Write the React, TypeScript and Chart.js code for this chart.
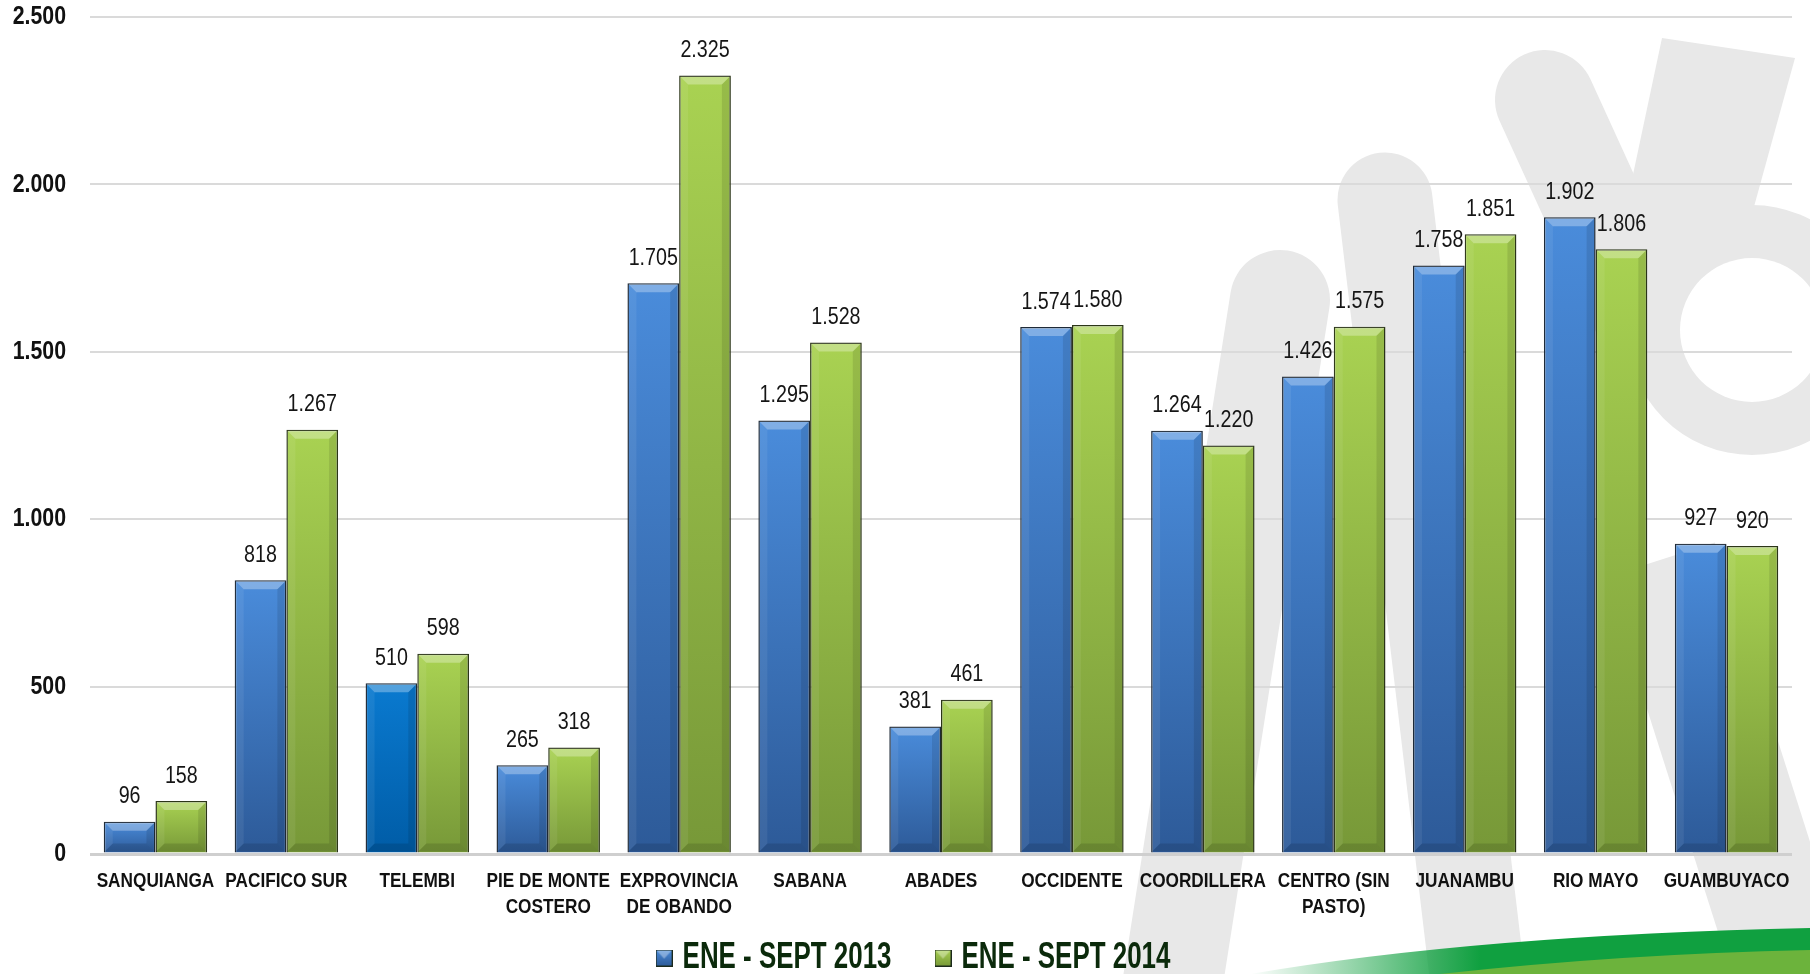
import { useEffect, useRef } from 'react';
import { Chart, registerables } from 'chart.js';

Chart.register(...registerables);

const categories: (string | string[])[] = [
  'SANQUIANGA',
  'PACIFICO SUR',
  'TELEMBI',
  ['PIE DE MONTE', 'COSTERO'],
  ['EXPROVINCIA', 'DE OBANDO'],
  'SABANA',
  'ABADES',
  'OCCIDENTE',
  'COORDILLERA',
  ['CENTRO (SIN', 'PASTO)'],
  'JUANAMBU',
  'RIO MAYO',
  'GUAMBUYACO',
];
const series2013 = [96, 818, 510, 265, 1705, 1295, 381, 1574, 1264, 1426, 1758, 1902, 927];
const series2014 = [158, 1267, 598, 318, 2325, 1528, 461, 1580, 1220, 1575, 1851, 1806, 920];
const seriesNames = ['ENE - SEPT 2013', 'ENE - SEPT 2014'];
const yMin = 0;
const yMax = 2500;
const yStep = 500;

const FONT = "'Liberation Sans', Arial, sans-serif";

const BLUE = { top: '#4a8cdb', bottom: '#2d5a98' };
const BLUE_ALT = { top: '#0a7ad0', bottom: '#005ca6' };
const GREEN = { top: '#a9d252', bottom: '#779838' };

function fmt(v: number) {
  return String(Math.round(v)).replace(/\B(?=(\d{3})+(?!\d))/g, '.');
}

function barGradient(ctx: any, top: string, bottom: string) {
  const chart = ctx.chart;
  const yScale = chart.scales && chart.scales.y;
  if (!chart.chartArea || !yScale) return top;
  const v = ctx.parsed ? ctx.parsed.y : ctx.raw;
  const yTop = yScale.getPixelForValue(v);
  const yBase = yScale.getPixelForValue(0);
  if (!isFinite(yTop) || !isFinite(yBase) || yBase - yTop < 1) return top;
  const g = chart.ctx.createLinearGradient(0, yTop, 0, yBase);
  g.addColorStop(0, top);
  g.addColorStop(1, bottom);
  return g;
}

function makeIcon(top: string, bottom: string) {
  const s = 17;
  const cv = document.createElement('canvas');
  cv.width = s;
  cv.height = s;
  const c = cv.getContext('2d')!;
  const g = c.createLinearGradient(0, 0, 0, s);
  g.addColorStop(0, top);
  g.addColorStop(1, bottom);
  c.fillStyle = g;
  c.fillRect(0, 0, s, s);
  c.fillStyle = 'rgba(255,255,255,0.35)';
  c.beginPath();
  c.moveTo(1, 1);
  c.lineTo(s - 1, 1);
  c.lineTo(s / 2, s * 0.55);
  c.closePath();
  c.fill();
  c.strokeStyle = '#1c2a1c';
  c.lineWidth = 1;
  c.strokeRect(0.5, 0.5, s - 1, s - 1);
  return cv;
}

function narrowFactor(font: string) {
  const m = /(\d+(?:\.\d+)?)px/.exec(font);
  const s = m ? parseFloat(m[1]) : 12;
  return s >= 30 ? 0.72 : 0.82;
}

// Condensed text rendering (Arial Narrow look) for every text drawn on the chart canvas
const narrowTextPlugin = {
  id: 'narrowText',
  beforeInit(chart: any) {
    const c: any = chart.ctx;
    const origFill = c.fillText.bind(c);
    const origMeasure = c.measureText.bind(c);
    c.fillText = (text: string, x: number, y: number, maxWidth?: number) => {
      const k = narrowFactor(c.font);
      c.save();
      c.translate(x, y);
      c.scale(k, 1);
      if (maxWidth === undefined || maxWidth === null) origFill(text, 0, 0);
      else origFill(text, 0, 0, maxWidth / k);
      c.restore();
    };
    c.measureText = (text: string) => {
      const k = narrowFactor(c.font);
      const m = origMeasure(text);
      return {
        width: m.width * k,
        actualBoundingBoxLeft: m.actualBoundingBoxLeft * k,
        actualBoundingBoxRight: m.actualBoundingBoxRight * k,
        actualBoundingBoxAscent: m.actualBoundingBoxAscent,
        actualBoundingBoxDescent: m.actualBoundingBoxDescent,
        fontBoundingBoxAscent: m.fontBoundingBoxAscent,
        fontBoundingBoxDescent: m.fontBoundingBoxDescent,
      };
    };
  },
};

// place the legend row like the original slide (lower and slightly right)
const legendPlacePlugin = {
  id: 'legendPlace',
  afterLayout(chart: any) {
    const lg = chart.legend;
    if (!lg) return;
    lg.top -= 31;
    lg.left += 21;
    lg.right += 21;
  },
};

const backgroundPlugin = {
  id: 'bgDecor',
  beforeDraw(chart: any) {
    const c = chart.ctx as CanvasRenderingContext2D;
    const W = chart.width;
    const H = chart.height;
    c.save();
    c.fillStyle = '#ffffff';
    c.fillRect(0, 0, W, H);
    const grey = '#e8e8e8';
    c.fillStyle = grey;
    c.strokeStyle = grey;
    c.beginPath();
    c.arc(1752, 330, 125, 0, Math.PI * 2);
    c.fill();
    c.lineCap = 'round';
    const band = (x1: number, y1: number, x2: number, y2: number, w: number) => {
      c.lineWidth = w;
      c.beginPath();
      c.moveTo(x1, y1);
      c.lineTo(x2, y2);
      c.stroke();
    };
    band(1385, 200, 1480, 1000, 95);
    band(1545, 100, 1650, 330, 100);
    band(1280, 300, 1170, 1000, 100);
    c.lineCap = 'butt';
    band(1660, 560, 1800, 1000, 115);
    c.beginPath();
    c.moveTo(1662, 38);
    c.lineTo(1795, 58);
    c.lineTo(1720, 330);
    c.lineTo(1600, 330);
    c.closePath();
    c.fill();
    c.fillStyle = '#ffffff';
    c.beginPath();
    c.arc(1752, 330, 72, 0, Math.PI * 2);
    c.fill();
    const g1 = c.createLinearGradient(1250, 0, 1480, 0);
    g1.addColorStop(0, 'rgba(16,160,64,0)');
    g1.addColorStop(1, 'rgba(16,160,64,1)');
    c.fillStyle = g1;
    c.beginPath();
    c.moveTo(1250, 974);
    c.quadraticCurveTo(1480, 935, 1810, 928);
    c.lineTo(1810, 974);
    c.closePath();
    c.fill();
    c.fillStyle = '#6cb33c';
    c.beginPath();
    c.moveTo(1440, 974);
    c.quadraticCurveTo(1620, 954, 1810, 950);
    c.lineTo(1810, 974);
    c.closePath();
    c.fill();
    c.restore();
  },
};

const barDecorPlugin = {
  id: 'barDecor',
  afterDatasetsDraw(chart: any) {
    const c = chart.ctx as CanvasRenderingContext2D;
    chart.data.datasets.forEach((ds: any, di: number) => {
      const meta = chart.getDatasetMeta(di);
      meta.data.forEach((el: any, i: number) => {
        const p = el.getProps(['x', 'y', 'base', 'width'], true);
        const l = p.x - p.width / 2;
        const r = p.x + p.width / 2;
        const t = p.y;
        const b = p.base;
        const bv = Math.min(9, (b - t) / 3);
        c.save();
        c.fillStyle = 'rgba(255,255,255,0.3)';
        c.beginPath();
        c.moveTo(l + 1, t + 1);
        c.lineTo(r - 1, t + 1);
        c.lineTo(r - bv, t + bv);
        c.lineTo(l + bv, t + bv);
        c.closePath();
        c.fill();
        c.fillStyle = 'rgba(0,0,0,0.10)';
        c.beginPath();
        c.moveTo(r - 1, t + 1);
        c.lineTo(r - 1, b - 1);
        c.lineTo(r - bv, b - bv);
        c.lineTo(r - bv, t + bv);
        c.closePath();
        c.fill();
        c.fillStyle = 'rgba(255,255,255,0.07)';
        c.beginPath();
        c.moveTo(l + 1, t + 1);
        c.lineTo(l + 1, b - 1);
        c.lineTo(l + bv, b - bv);
        c.lineTo(l + bv, t + bv);
        c.closePath();
        c.fill();
        c.fillStyle = 'rgba(0,0,0,0.12)';
        c.beginPath();
        c.moveTo(l + 1, b - 1);
        c.lineTo(r - 1, b - 1);
        c.lineTo(r - bv, b - bv);
        c.lineTo(l + bv, b - bv);
        c.closePath();
        c.fill();
        c.fillStyle = '#151515';
        c.font = `24px ${FONT}`;
        c.textAlign = 'center';
        c.textBaseline = 'middle';
        c.fillText(fmt(ds.data[i]), p.x, t - 25);
        c.restore();
      });
    });
  },
};

export default function App() {
  const ref = useRef<HTMLCanvasElement | null>(null);

  useEffect(() => {
    if (!ref.current) return;
    const icons = [makeIcon(BLUE.top, BLUE.bottom), makeIcon(GREEN.top, GREEN.bottom)];
    const chart = new Chart(ref.current, {
      type: 'bar',
      data: {
        labels: categories,
        datasets: [
          {
            label: seriesNames[0],
            data: series2013,
            backgroundColor: (ctx: any) =>
              ctx.dataIndex === 2
                ? barGradient(ctx, BLUE_ALT.top, BLUE_ALT.bottom)
                : barGradient(ctx, BLUE.top, BLUE.bottom),
            borderColor: '#1e2a38',
            borderWidth: 1.5,
            categoryPercentage: 0.79,
            barPercentage: 1,
          },
          {
            label: seriesNames[1],
            data: series2014,
            backgroundColor: (ctx: any) => barGradient(ctx, GREEN.top, GREEN.bottom),
            borderColor: '#2c3618',
            borderWidth: 1.5,
            categoryPercentage: 0.79,
            barPercentage: 1,
          },
        ],
      },
      options: {
        animation: false,
        responsive: true,
        maintainAspectRatio: false,
        layout: { padding: { left: 0, right: 18, top: 17, bottom: 0 } },
        plugins: {
          tooltip: { enabled: false },
          legend: {
            position: 'bottom',
            maxHeight: 54,
            labels: {
              usePointStyle: true,
              pointStyleWidth: 1,
              padding: 51,
              color: '#0b2a0b',
              font: { family: FONT, size: 36, weight: 'bold' },
              generateLabels: (ch: any) =>
                ch.data.datasets.map((ds: any, i: number) => ({
                  text: ds.label,
                  fillStyle: i === 0 ? BLUE.top : GREEN.top,
                  strokeStyle: '#000',
                  lineWidth: 0,
                  pointStyle: icons[i],
                  hidden: false,
                  datasetIndex: i,
                  fontColor: '#0b2a0b',
                })),
            },
          },
        },
        scales: {
          x: {
            grid: { display: false, drawTicks: false },
            border: { display: false },
            ticks: {
              padding: 15,
              color: '#111111',
              font: { family: FONT, size: 21, weight: 'bold' },
              maxRotation: 0,
              autoSkip: false,
            },
            afterFit: (scale: any) => {
              scale.height = 66;
            },
          },
          y: {
            min: yMin,
            max: yMax,
            grid: {
              color: (ctx: any) => (ctx.tick && ctx.tick.value === 0 ? '#cfcfcf' : '#dadada'),
              lineWidth: (ctx: any) => (ctx.tick && ctx.tick.value === 0 ? 3 : 2),
              drawTicks: false,
            },
            border: { display: false },
            ticks: {
              stepSize: yStep,
              padding: 24,
              color: '#111111',
              font: { family: FONT, size: 26, weight: 'bold' },
              callback: (v: any) => fmt(Number(v)),
            },
            afterFit: (scale: any) => {
              scale.width = 90;
              scale.paddingTop = 0;
              scale.paddingBottom = 0;
            },
          },
        },
      } as any,
      plugins: [narrowTextPlugin, legendPlacePlugin, backgroundPlugin, barDecorPlugin],
    });
    return () => chart.destroy();
  }, []);

  return (
    <div style={{ position: 'absolute', left: 0, top: 0, width: 1810, height: 974 }}>
      <canvas ref={ref} />
    </div>
  );
}
